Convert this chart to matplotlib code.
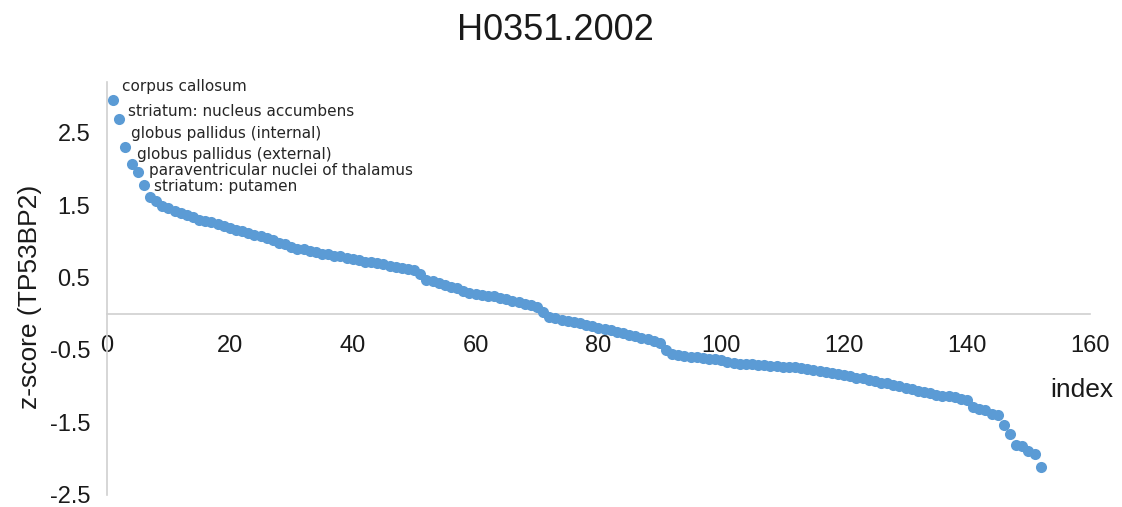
import numpy as np
import matplotlib.pyplot as plt

# z-score per region, sorted high to low
idx = np.arange(1, 153)
zscore = [
    2.95, 2.69, 2.30, 2.06, 1.96, 1.78, 1.61, 1.56, 1.49, 1.46,
    1.42, 1.39, 1.36, 1.33, 1.30, 1.28, 1.26, 1.24, 1.21, 1.18,
    1.16, 1.14, 1.12, 1.09, 1.07, 1.05, 1.02, 0.98, 0.96, 0.92,
    0.90, 0.89, 0.87, 0.85, 0.83, 0.82, 0.80, 0.79, 0.77, 0.76,
    0.74, 0.72, 0.71, 0.70, 0.68, 0.66, 0.64, 0.63, 0.62, 0.60,
    0.55, 0.47, 0.45, 0.42, 0.39, 0.37, 0.35, 0.32, 0.28, 0.27,
    0.26, 0.25, 0.24, 0.22, 0.20, 0.18, 0.16, 0.14, 0.12, 0.10,
    0.03, -0.04, -0.06, -0.08, -0.10, -0.11, -0.13, -0.15, -0.17, -0.19,
    -0.21, -0.23, -0.25, -0.27, -0.29, -0.31, -0.33, -0.35, -0.38, -0.41,
    -0.50, -0.55, -0.57, -0.58, -0.59, -0.60, -0.61, -0.62, -0.63, -0.64,
    -0.66, -0.68, -0.69, -0.70, -0.70, -0.71, -0.71, -0.72, -0.72, -0.73,
    -0.73, -0.74, -0.75, -0.76, -0.77, -0.79, -0.80, -0.82, -0.83, -0.84,
    -0.86, -0.88, -0.89, -0.91, -0.93, -0.95, -0.96, -0.98, -1.00, -1.02,
    -1.04, -1.06, -1.08, -1.10, -1.12, -1.13, -1.14, -1.15, -1.17, -1.19,
    -1.28, -1.31, -1.33, -1.38, -1.39, -1.53, -1.66, -1.81, -1.82, -1.90,
    -1.94, -2.11,
]
top_labels = [
    "corpus callosum",
    "striatum: nucleus accumbens",
    "globus pallidus (internal)",
    "globus pallidus (external)",
    "paraventricular nuclei of thalamus",
    "striatum: putamen",
]
xticks = [0, 20, 40, 60, 80, 100, 120, 140, 160]
yticks = [-2.5, -1.5, -0.5, 0.5, 1.5, 2.5]

plt.rcParams['font.family'] = ['Liberation Sans', 'DejaVu Sans']
fig = plt.figure(figsize=(11.22, 5.07), dpi=100)
ax = fig.add_axes([0.0954, 0.0237, 0.876, 0.815])

ax.scatter(idx, zscore, s=64, color='#5b9bd5', zorder=3, linewidths=0)

# labels for the six highest regions (offsets in points)
offsets = [(6, 10), (6, 5), (4, 10), (4, 7), (8, 1), (7, -1)]
for i, (lab, off) in enumerate(zip(top_labels, offsets)):
    ax.annotate(lab, (idx[i], zscore[i]), xytext=off, textcoords='offset points',
                fontsize=11, family='DejaVu Sans', color='#262626',
                va='center', ha='left')

ax.set_xlim(0, 160)
ax.set_ylim(-2.5, 3.2)
ax.set_xticks(xticks)
ax.set_yticks(yticks)
ax.set_yticklabels([str(v) for v in yticks])
ax.tick_params(axis='both', length=0, labelsize=17, colors='#1a1a1a')
ax.tick_params(axis='x', pad=15)
ax.tick_params(axis='y', pad=12)

for side in ['top', 'right']:
    ax.spines[side].set_visible(False)
ax.spines['left'].set_position(('data', 0))
ax.spines['bottom'].set_position(('data', 0))
for side in ['left', 'bottom']:
    ax.spines[side].set_color('#d0d0d0')
    ax.spines[side].set_linewidth(1.2)

fig.text(0.495, 0.94, "H0351.2002", fontsize=26, ha='center', va='center', color='#1a1a1a')
fig.text(0.027, 0.415, "z-score (TP53BP2)", fontsize=19, rotation=90,
         ha='center', va='center', color='#1a1a1a')
fig.text(0.964, 0.23, "index", fontsize=19, ha='center', va='center', color='#1a1a1a')

plt.savefig("out.png", dpi=100)
